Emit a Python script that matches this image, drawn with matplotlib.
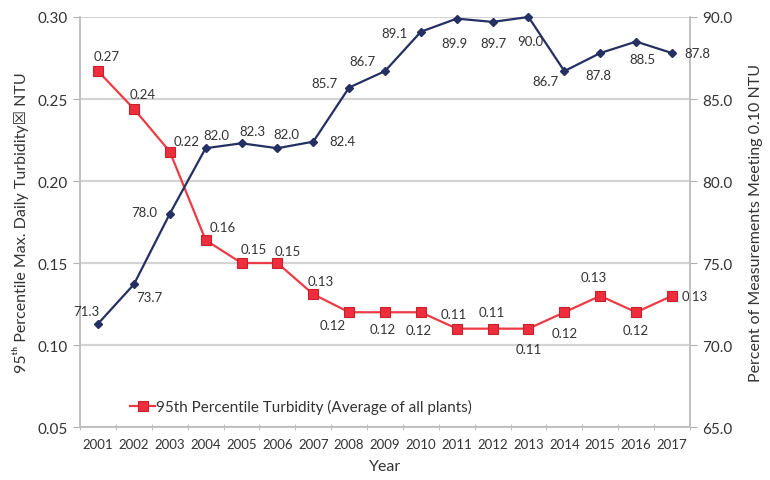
import matplotlib
matplotlib.use("Agg")
import matplotlib.pyplot as plt
import numpy as np

# data
years = [str(y) for y in range(2001, 2018)]
turbidity = [0.267, 0.244, 0.218, 0.164, 0.150, 0.150, 0.131, 0.120, 0.120,
             0.120, 0.110, 0.110, 0.110, 0.120, 0.130, 0.120, 0.130]
turb_labels = ['0.27', '0.24', '0.22', '0.16', '0.15', '0.15', '0.13', '0.12', '0.12',
               '0.12', '0.11', '0.11', '0.11', '0.12', '0.13', '0.12', '0.13']
pct_meeting = [71.3, 73.7, 78.0, 82.0, 82.3, 82.0, 82.4, 85.7, 86.7,
               89.1, 89.9, 89.7, 90.0, 86.7, 87.8, 88.5, 87.8]
pct_labels = ['71.3', '73.7', '78.0', '82.0', '82.3', '82.0', '82.4', '85.7', '86.7',
              '89.1', '89.9', '89.7', '90.0', '86.7', '87.8', '88.5', '87.8']

# label offsets in pixels (dx, dy), dy positive = up
turb_off = [(9, 15), (9, 15), (17, 11), (17, 13), (12, 14), (10, 12), (7, 13), (-16, -13),
            (-2, -17), (-2, -18), (-3, 15), (-1, 17), (0, -20), (0, -21), (-6, 19),
            (0, -18), (10, 0)]
pct_off = [(-12, 13), (15, -13), (-26, 2), (11, 13), (11, 12), (9, 14), (29, 1), (-25, 5),
           (-23, 10), (-26, -1), (-2, -24), (1, -21), (2, -24), (-19, -10), (-2, -22),
           (6, -17), (25, 0)]

plt.rcParams['font.family'] = ['Lato', 'DejaVu Sans']
text_col = '#333333'
grid_col = '#d4d4d4'
red = '#ee3b45'
navy = '#243063'

fig = plt.figure(figsize=(7.7, 4.81), dpi=100)
ax = fig.add_axes([0.104, 0.110, 0.792, 0.8526])
ax2 = ax.twinx()

x = np.arange(len(years))

ax.plot(x, turbidity, color=red, lw=1.6, marker='s', ms=7, mfc='#ee2e3c',
        mec='#c8202c', mew=0.8, label='95th Percentile Turbidity (Average of all plants)',
        zorder=3, clip_on=False)
ax2.plot(x, pct_meeting, color=navy, lw=1.6, marker='D', ms=4, mfc=navy, mec=navy,
         zorder=3, clip_on=False)

for i in range(len(x)):
    dx, dy = turb_off[i]
    ax.annotate(turb_labels[i], (x[i], turbidity[i]), xytext=(dx, dy),
                textcoords='offset pixels', ha='left' if i == 16 else 'center',
                va='center', fontsize=9.5, color=text_col)
    dx, dy = pct_off[i]
    ax2.annotate(pct_labels[i], (x[i], pct_meeting[i]), xytext=(dx, dy),
                 textcoords='offset pixels', ha='center', va='center',
                 fontsize=9.5, color=text_col)

ax.set_xlim(-0.5, len(years) - 0.5)
ax.set_ylim(0.05, 0.30)
ax.set_yticks(np.arange(0.05, 0.301, 0.05))
ax.set_yticklabels(['%.2f' % v for v in np.arange(0.05, 0.301, 0.05)])
ax2.set_ylim(65, 90)
ax2.set_yticks(np.arange(65, 90.1, 5))
ax2.set_yticklabels(['%.1f' % v for v in np.arange(65, 90.1, 5)])

ax.set_xticks(x)
ax.set_xticklabels(years)
ax.set_xticks(np.arange(-0.5, len(years), 1), minor=True)
ax.tick_params(axis='x', which='major', length=0, pad=8, labelsize=9.5, colors=text_col)
ax.tick_params(axis='x', which='minor', length=5, direction='inout', color='#b0b0b0')
ax.tick_params(axis='y', length=5, color='#b0b0b0', labelsize=11, colors=text_col, pad=4)
ax2.tick_params(axis='y', length=5, color='#b0b0b0', labelsize=11, colors=text_col, pad=4)

ax.grid(axis='y', color=grid_col, lw=1.6)
ax.set_axisbelow(True)
for a in (ax, ax2):
    a.spines['top'].set_visible(False)
    for s in ('left', 'right', 'bottom'):
        a.spines[s].set_color('#c0c0c0')
        a.spines[s].set_linewidth(1.2)

ax.set_xlabel('Year', fontsize=11.5, color=text_col, labelpad=6)
ax.set_ylabel('95\u1d57\u02b0 Percentile Max. Daily Turbidity\u2612 NTU',
              fontsize=11.5, color=text_col, labelpad=6)
ax2.set_ylabel('Percent of Measurements Meeting 0.10 NTU', fontsize=11.5,
               color=text_col, labelpad=12)

ax.legend(loc='center left', bbox_to_anchor=(0.06, 0.05), frameon=False,
          fontsize=11, handlelength=1.6, handletextpad=0.1, labelcolor=text_col)

fig.savefig('out.png', dpi=100)
